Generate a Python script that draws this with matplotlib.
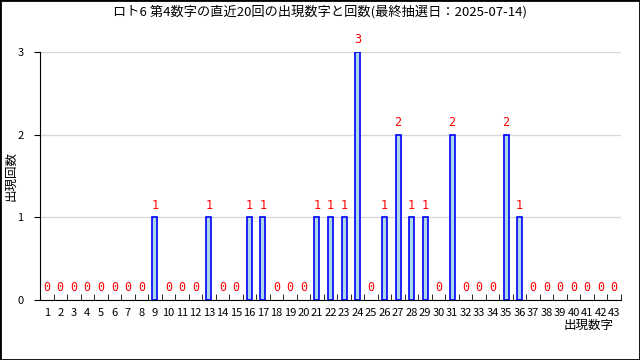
import matplotlib
matplotlib.use("Agg")
import matplotlib.pyplot as plt
from matplotlib.patches import Rectangle
import numpy as np

plt.rcParams['font.family'] = ['Noto Sans CJK JP', 'DejaVu Sans']

numbers = list(range(1, 44))
counts_map = {9: 1, 13: 1, 16: 1, 17: 1, 21: 1, 22: 1, 23: 1, 24: 3, 26: 1,
              27: 2, 28: 1, 29: 1, 31: 2, 35: 2, 36: 1}
counts = [counts_map.get(n, 0) for n in numbers]
title = "ロト6 第4数字の直近20回の出現数字と回数(最終抽選日：2025-07-14)"
ylabel = "出現回数"
xlabel = "出現数字"

fig = plt.figure(figsize=(6.4, 3.6), dpi=100)
ax = fig.add_axes([40/640, 60/360, 581/640, 248/360])

x = np.arange(len(numbers))
edges = ['#0000FF' if c > 0 else 'none' for c in counts]
ax.bar(x, counts, width=0.37, color='#ADD8E6', edgecolor=edges, linewidth=1.2, zorder=3)
for xi, c in zip(x, counts):
    ax.annotate(str(c), (xi, c), xytext=(0, 4), textcoords='offset points',
                ha='center', va='bottom', color='#FF0000', fontsize=8.5,
                family=['DejaVu Sans Mono'])

ax.set_xlim(-0.5, len(numbers) - 0.5)
ax.set_ylim(0, 3)
ax.set_yticks([0, 1, 2, 3])
ax.yaxis.grid(True, color='#D8D8D8', linewidth=1, zorder=0)
ax.set_xticks(x)
ax.set_xticklabels([str(n) for n in numbers], fontsize=8)
ax.tick_params(axis='x', length=0, pad=6)
ax.set_xticks(np.arange(len(numbers) + 1) - 0.5, minor=True)
ax.tick_params(axis='x', which='minor', direction='in', length=4, color='black')
ax.tick_params(axis='y', length=4, labelsize=8, pad=8)
for s in ['top', 'right']:
    ax.spines[s].set_visible(False)
ax.spines['left'].set_color('black')
ax.spines['bottom'].set_color('black')

fig.text(11/640, 1 - 176/360, ylabel, ha='center', va='center', rotation=90, fontsize=9)
fig.text(614/640, 1 - 325/360, xlabel, ha='right', va='center', fontsize=9)
fig.text(0.5, 1 - 12/360, title, ha='center', va='center', fontsize=9.5)

fig.patches.append(Rectangle((0, 0), 1, 1, transform=fig.transFigure,
                             fill=False, edgecolor='black', linewidth=2))
fig.savefig("out.png", dpi=100)
